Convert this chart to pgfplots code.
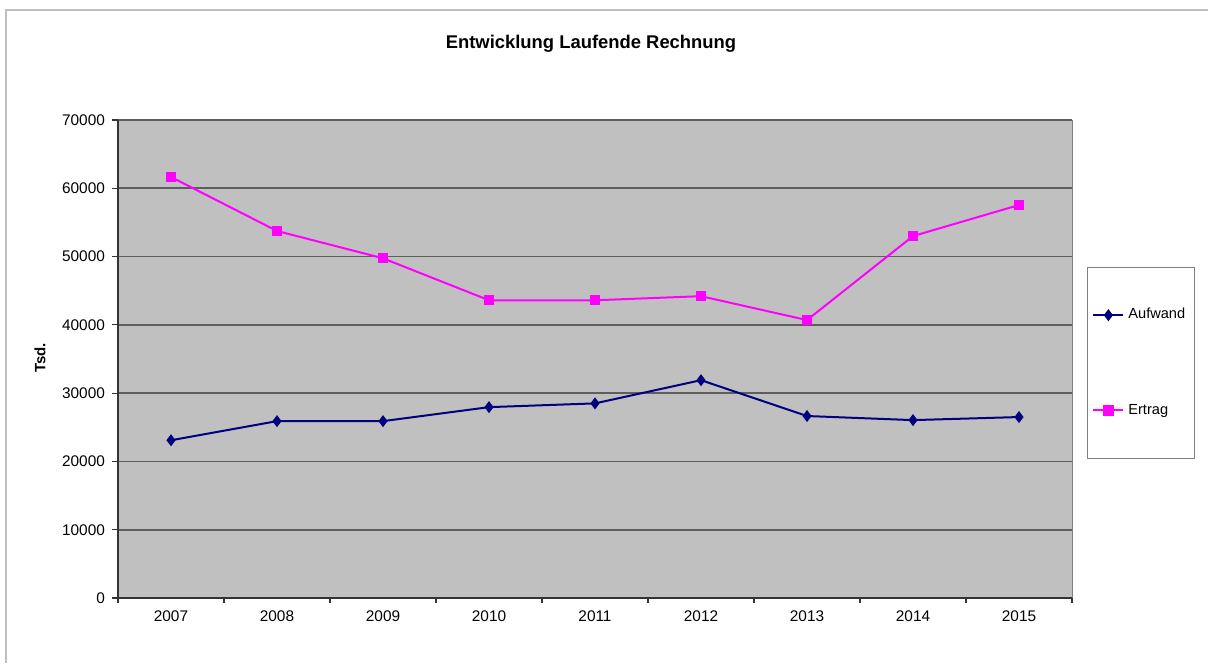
\documentclass[border=0pt]{standalone}
\usepackage{pgfplots}
\pgfplotsset{compat=1.18}
\usepackage{fontspec}
\setmainfont{Liberation Sans}
\definecolor{bgray}{HTML}{C0C0C0}
\definecolor{gline}{HTML}{5E5E5E}
\definecolor{navyc}{HTML}{000080}
\definecolor{magc}{HTML}{FF00FF}
\begin{document}
\begin{tikzpicture}
\path[use as bounding box] (0,0) rectangle (604pt,331.5pt);
\draw[black!25, line width=1pt] (3pt,0) -- (3pt,326.5pt) -- (604pt,326.5pt);
\node[font=\fontsize{9.2}{10}\selectfont\bfseries] at (295.5pt,309.5pt) {Entwicklung Laufende Rechnung};
\node[font=\fontsize{7.5}{8}\selectfont\bfseries, rotate=90] at (20pt,152.5pt) {Tsd.};
\begin{axis}[
  at={(59pt,32.5pt)}, anchor=south west,
  scale only axis, width=477pt, height=239pt,
  xmin=-0.5, xmax=8.5, ymin=0, ymax=70000,
  axis background/.style={fill=bgray, draw=gray},
  axis x line*=bottom, axis y line*=left,
  axis line style={black!80, line width=0.6pt},
  xtick={0,...,8},
  xticklabels={2007,2008,2009,2010,2011,2012,2013,2014,2015},
  minor xtick={-0.5,0.5,...,8.5},
  ytick={0,10000,...,70000},
  scaled y ticks=false,
  /pgf/number format/assume math mode=true,
  /pgf/number format/set thousands separator={},
  tick align=outside,
  major x tick style={draw=none},
  minor tick length=2.5pt,
  major tick length=3pt,
  tick style={black!80, line width=0.6pt},
  ymajorgrids, major grid style={gline, line width=0.9pt},
  ticklabel style={font=\fontsize{7.7}{8}\selectfont},
  xticklabel style={yshift=0pt},
  legend style={draw=gray, fill=white, at={(1.0157,0.6925)}, anchor=north west,
    font=\fontsize{7.3}{8}\selectfont, inner xsep=2.5pt, inner ysep=18.5pt, row sep=37pt},
  legend cell align=left,
  legend image code/.code={\draw[#1, mark repeat=2, mark phase=2] plot coordinates {(0pt,0pt) (7.5pt,0pt) (15pt,0pt)};},
]
\addplot[navyc, line width=1pt, mark=diamond*, mark size=2.2pt, mark options={fill=navyc, draw=navyc}]
 coordinates {(0,23100) (1,25900) (2,25900) (3,27950) (4,28500) (5,31900) (6,26650) (7,26050) (8,26500)};
\addlegendentry{Aufwand}
\addplot[magc, line width=1pt, mark=square*, mark size=2.1pt, mark options={fill=magc, draw=magc}]
 coordinates {(0,61650) (1,53750) (2,49750) (3,43600) (4,43600) (5,44200) (6,40700) (7,53000) (8,57550)};
\addlegendentry{Ertrag}
\end{axis}
\end{tikzpicture}
\end{document}
